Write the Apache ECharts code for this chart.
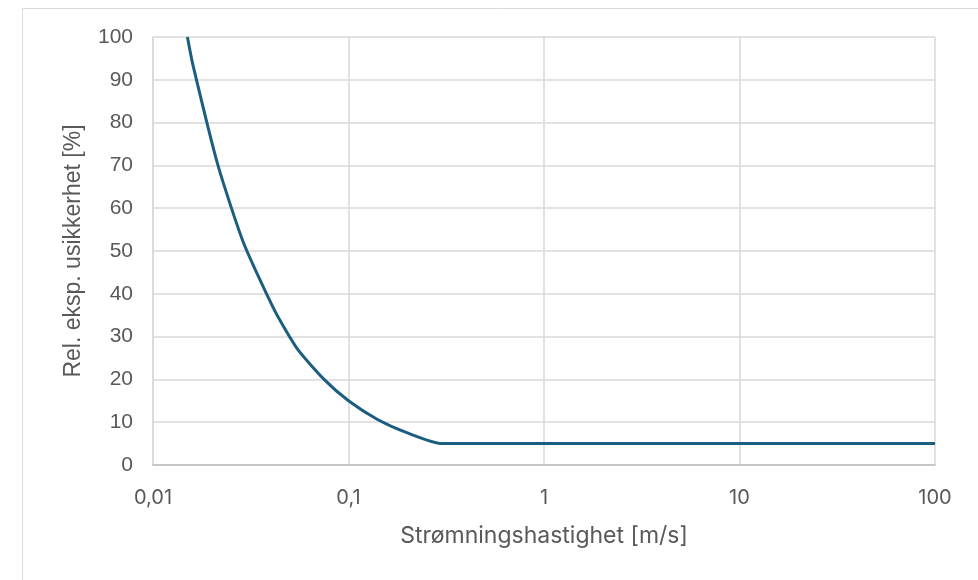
<!DOCTYPE html>
<html><head><meta charset="utf-8">
<script src="https://cdn.jsdelivr.net/npm/echarts@6/dist/echarts.min.js"></script>
<style>html,body{margin:0;padding:0;background:#fff}#c{width:978px;height:580px}</style>
</head><body><div id="c"></div>
<script>
const velocity = [0.015, 0.016, 0.0215, 0.029, 0.042, 0.055, 0.075, 0.1, 0.14, 0.2, 0.3, 1, 10, 100];
const uncertainty = [100, 93.5, 70, 52, 36, 27, 20, 15, 10.7, 7.5, 5, 5, 5, 5];
const yTicks = [0, 10, 20, 30, 40, 50, 60, 70, 80, 90, 100];
const xTickLabels = ['0,01', '0,1', '1', '10', '100'];

const chart = echarts.init(document.getElementById('c'));
const yFont = '"Liberation Sans", Arial, sans-serif';
const xFont = 'Inter, "Open Sans", sans-serif';
chart.setOption({
  animation: false,
  graphic: [{type:'rect', shape:{x:22.5, y:8.5, width:1000, height:700}, style:{fill:'none', stroke:'#d9d9d9', lineWidth:1}, z:-10}],
  grid: {left:153, right:43, top:37, bottom:115, containLabel:false},
  xAxis: {
    type:'log', logBase:10, min:0.01, max:100,
    name:'Strømningshastighet [m/s]', nameLocation:'middle', nameGap:60,
    nameTextStyle:{color:'#595959', fontSize:23, fontFamily:xFont},
    axisLine:{show:true, lineStyle:{color:'#bfbfbf', width:1.5}},
    axisTick:{show:false},
    splitLine:{show:true, lineStyle:{color:'#d9d9d9', width:1.5}},
    minorTick:{show:false}, minorSplitLine:{show:false},
    axisLabel:{color:'#595959', fontSize:20, fontFamily:xFont, margin:23,
      formatter: v => { const e = Math.round(Math.log10(v)) + 2; return xTickLabels[e] !== undefined ? xTickLabels[e] : ''; }}
  },
  yAxis: {
    type:'value', min:0, max:100, interval:10,
    name:'Rel. eksp. usikkerhet [%]', nameLocation:'middle', nameGap:68, nameRotate:90,
    nameTextStyle:{color:'#595959', fontSize:23, fontFamily:yFont},
    axisLine:{show:true, lineStyle:{color:'#d9d9d9', width:1.5}},
    axisTick:{show:false},
    splitLine:{show:true, lineStyle:{color:'#d9d9d9', width:1.5}},
    axisLabel:{color:'#595959', fontSize:21, fontFamily:yFont, margin:20,
      formatter: v => yTicks.includes(v) ? String(v) : ''}
  },
  series: [{
    type:'line', data: velocity.map((v,i)=>[v, uncertainty[i]]),
    showSymbol:false, smooth:0.2, lineStyle:{color:'#1b5e80', width:3}, z:5, clip:true
  }]
});
</script></body></html>
